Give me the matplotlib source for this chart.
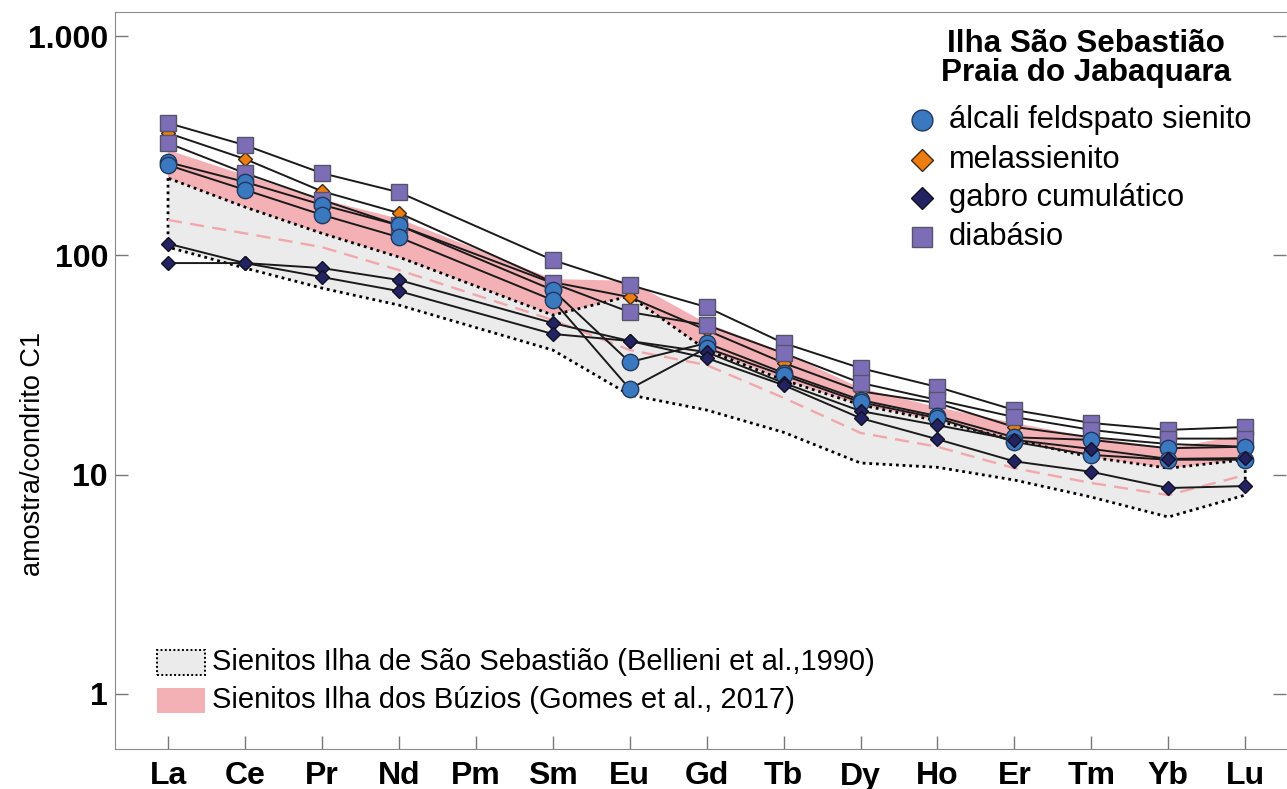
import numpy as np
import matplotlib
matplotlib.use("Agg")
import matplotlib.pyplot as plt
from matplotlib.ticker import FixedLocator, NullLocator, FixedFormatter
from matplotlib.patches import Rectangle

plt.rcParams['font.family'] = ['Liberation Sans', 'DejaVu Sans']

# REE order; Pm is not measured, so series skip it
elements = ['La', 'Ce', 'Pr', 'Nd', 'Pm', 'Sm', 'Eu', 'Gd', 'Tb', 'Dy', 'Ho', 'Er', 'Tm', 'Yb', 'Lu']
measured = ['La', 'Ce', 'Pr', 'Nd', 'Sm', 'Eu', 'Gd', 'Tb', 'Dy', 'Ho', 'Er', 'Tm', 'Yb', 'Lu']

# chondrite-normalised values
afs_1 = [266, 216, 170, 137, 69.5, 32.6, 39.8, 29.1, 21.9, 18.5, 14.8, 14.4, 13.2, 13.4]
afs_2 = [258, 199, 153, 121, 62.5, 24.6, 37.8, 28.4, 21.4, 18.1, 14.1, 12.3, 11.7, 11.7]
mela = [361, 275, 196, 156, 75.5, 64.5, 45.6, 32.3, 24.0, 21.2, 16.5, 14.8, 13.8, 13.4]
gabro_1 = [113, 92.2, 87.5, 77.2, 49.1, 40.7, 36.2, 26.2, 19.5, 16.8, 14.4, 13.1, 11.8, 11.9]
gabro_2 = [92.2, 92.2, 79.6, 68.7, 43.8, 40.7, 34.0, 25.6, 18.1, 14.5, 11.5, 10.3, 8.69, 8.87]
diab_1 = [401, 318, 237, 194, 95.2, 73.2, 58.1, 39.8, 30.6, 25.1, 19.7, 17.2, 16.0, 16.5]
diab_2 = [325, 237, 179, 137, 74.7, 55.1, 48.1, 35.8, 26.2, 21.9, 18.3, 16.0, 14.6, 14.6]

# reference fields
bel_max = [225, 166, 126, 98.2, 53.4, 65.2, 37.0, 27.0, 20.8, 17.6, 14.4, 12.0, 10.7, 11.7]
bel_min = [109, 87.5, 70.9, 59.3, 37.0, 23.1, 19.7, 15.6, 11.3, 10.8, 9.45, 7.90, 6.41, 8.07]
buz_max = [302, 232, 180, 147, 78.0, 76.5, 49.0, 36.2, 24.8, 20.3, 17.2, 14.8, 13.2, 15.2]
buz_min = [145, 126, 109, 85.7, 50.7, 37.0, 31.6, 22.4, 15.5, 13.4, 10.7, 9.16, 8.07, 9.96]

y_ticks = [1, 10, 100, 1000]
y_labels = ['1', '10', '100', '1.000']

x = np.array([elements.index(e) for e in measured])

fig = plt.figure(figsize=(12.87, 7.89), dpi=100)
ax = fig.add_axes([115 / 1287, 1 - 749 / 789, 1171 / 1287, 737 / 789])
ax.set_yscale('log')
ax.set_xlim(-0.689, 14.53)
ax.set_ylim(0.561, 1287)

pink = '#f4b1b5'
ax.fill_between(x, buz_min, buz_max, facecolor=pink, edgecolor='none', zorder=1)
ax.fill_between(x, bel_min, bel_max, facecolor='#ebebeb', edgecolor='black',
                linestyle=(0, (1, 1.4)), linewidth=2, zorder=2)
ax.plot(x, buz_min, color='#f2a7ab', lw=1.7, dashes=(6, 3.5), zorder=3)

samples = [
    (mela, 'D', '#ee7d11', '#3a2a1a', 7.3),
    (diab_1, 's', '#7c6db6', '#55556a', 11.5),
    (diab_2, 's', '#7c6db6', '#55556a', 11.5),
    (afs_1, 'o', '#3a78c0', '#22385a', 11.8),
    (afs_2, 'o', '#3a78c0', '#22385a', 11.8),
    (gabro_1, 'D', '#232262', '#111122', 7.5),
    (gabro_2, 'D', '#232262', '#111122', 7.5),
]
for vals, *_ in samples:
    ax.plot(x, vals, color='#1a1a1a', lw=1.4, zorder=4)
for i, (vals, mk, fc, ec, ms) in enumerate(samples):
    ax.plot(x, vals, ls='none', marker=mk, ms=ms, mfc=fc, mec=ec, mew=1.0, zorder=5 + i)

# axes styling
for side in ['left', 'bottom', 'top']:
    ax.spines[side].set_color('#8a8a8a')
ax.spines['right'].set_visible(False)
ax.yaxis.set_major_locator(FixedLocator(y_ticks))
ax.yaxis.set_major_formatter(FixedFormatter(y_labels))
ax.yaxis.set_minor_locator(NullLocator())
ax.set_xticks(range(len(elements)))
ax.set_xticklabels(elements)
ax.tick_params(axis='both', direction='in', length=9.5, width=1, color='#777777',
               labelsize=23)
ax.tick_params(axis='y', right=True, pad=5)
ax.tick_params(axis='x', pad=9)
for lab in ax.get_xticklabels() + ax.get_yticklabels():
    lab.set_fontweight('bold')

ax.set_ylabel('amostra/condrito C1', fontsize=19.5)
ax.yaxis.set_label_coords(-0.059, 0.40)

# top-right legend
ax.text(0.829, 0.937, 'Ilha São Sebastião\nPraia do Jabaquara', transform=ax.transAxes,
        ha='center', va='center', fontsize=22.6, fontweight='bold', linespacing=0.98)
legend_rows = [
    ('álcali feldspato sienito', 'o', '#3a78c0', '#22385a', 15, 0.8535),
    ('melassienito', 'D', '#ee7d11', '#3a2a1a', 11, 0.799),
    ('gabro cumulático', 'D', '#232262', '#111122', 11, 0.7476),
    ('diabásio', 's', '#7c6db6', '#55556a', 14.5, 0.6947),
]
for label, mk, fc, ec, ms, yy in legend_rows:
    ax.plot([0.689], [yy], transform=ax.transAxes, marker=mk, ms=ms, mfc=fc, mec=ec,
            mew=1.0, ls='none', clip_on=False, zorder=20)
    ax.text(0.712, yy, label, transform=ax.transAxes, ha='left', va='center', fontsize=22.2)

# bottom-left legend for fields
ax.add_patch(Rectangle((0.0359, 0.1004), 0.041, 0.0339, transform=ax.transAxes,
                       facecolor='#ebebeb', edgecolor='black', linestyle=(0, (1, 1.2)),
                       linewidth=1.4, zorder=20))
ax.add_patch(Rectangle((0.0359, 0.0488), 0.041, 0.0339, transform=ax.transAxes,
                       facecolor=pink, edgecolor='none', zorder=20))
ax.text(0.0828, 0.118, 'Sienitos Ilha de São Sebastião (Bellieni et al.,1990)',
        transform=ax.transAxes, ha='left', va='center', fontsize=21)
ax.text(0.0828, 0.0665, 'Sienitos Ilha dos Búzios (Gomes et al., 2017)',
        transform=ax.transAxes, ha='left', va='center', fontsize=21)

fig.savefig('out.png', dpi=100)
